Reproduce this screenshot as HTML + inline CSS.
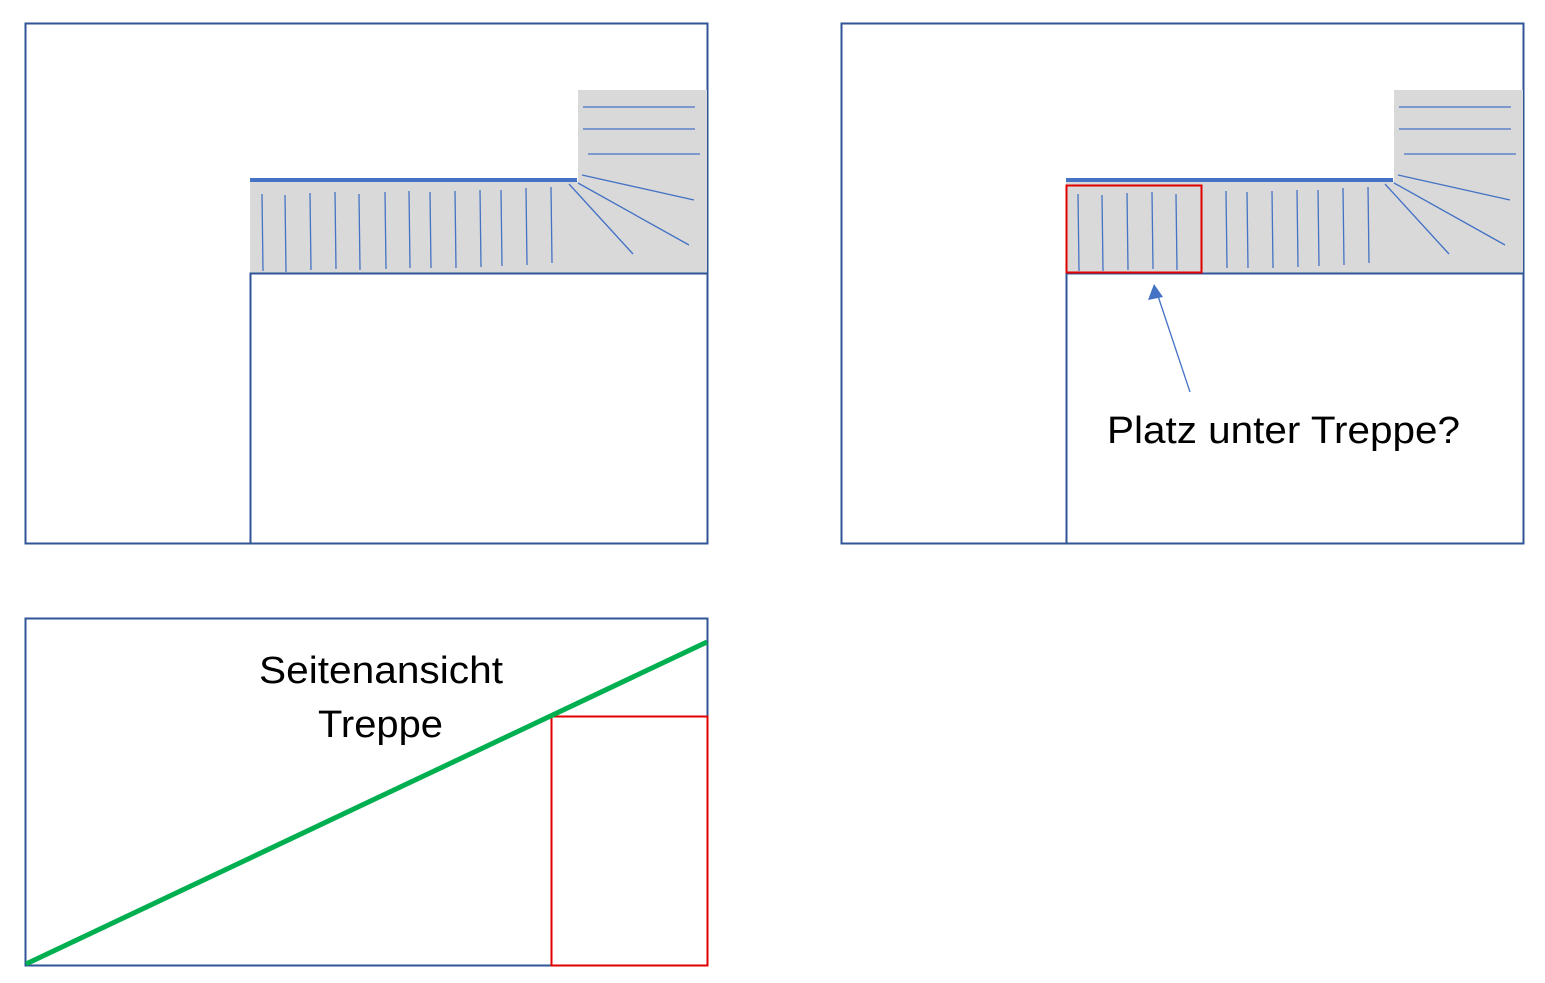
<!DOCTYPE html>
<html><head><meta charset="utf-8"><style>
html,body{margin:0;padding:0;background:#fff;width:1545px;height:983px;overflow:hidden}
svg{display:block}
text{font-family:"Liberation Sans",sans-serif;font-size:38px;fill:#000}
</style></head><body>
<svg width="1545" height="983" viewBox="0 0 1545 983" xmlns="http://www.w3.org/2000/svg">
<g>
<rect x="25.5" y="23.5" width="682" height="520" fill="#fff" stroke="#2f5597" stroke-width="2"/>
<rect x="250" y="181" width="457" height="92" fill="#d9d9d9"/>
<rect x="578" y="90" width="129" height="91" fill="#d9d9d9"/>
<line x1="250" y1="180" x2="577" y2="180" stroke="#4472c4" stroke-width="4"/>
<rect x="250.5" y="273.5" width="457" height="270" fill="#fff" stroke="#2f5597" stroke-width="2"/>
<g stroke="#4472c4" stroke-width="1.3">
<line x1="262" y1="194" x2="263" y2="271"/><line x1="285" y1="195" x2="286" y2="272"/>
<line x1="310" y1="193" x2="311" y2="270"/><line x1="335" y1="192" x2="336" y2="269"/>
<line x1="359" y1="194" x2="360" y2="270"/><line x1="385" y1="192" x2="386" y2="269"/>
<line x1="409" y1="191" x2="410" y2="268"/><line x1="430" y1="192" x2="431" y2="268"/>
<line x1="455" y1="191" x2="456" y2="268"/><line x1="480" y1="190" x2="481" y2="267"/>
<line x1="501" y1="190" x2="502" y2="266"/><line x1="526" y1="188" x2="527" y2="265"/>
<line x1="551" y1="187" x2="552" y2="263"/>
<line x1="569" y1="184" x2="633" y2="254"/><line x1="578" y1="183" x2="689" y2="245"/>
<line x1="582" y1="175" x2="694" y2="200"/>
<line x1="583" y1="107" x2="695" y2="107"/><line x1="583" y1="129" x2="695" y2="129"/>
<line x1="588" y1="154" x2="700" y2="154"/>
</g>
</g>
<g transform="translate(816,0)">
<rect x="25.5" y="23.5" width="682" height="520" fill="#fff" stroke="#2f5597" stroke-width="2"/>
<rect x="250" y="181" width="457" height="92" fill="#d9d9d9"/>
<rect x="578" y="90" width="129" height="91" fill="#d9d9d9"/>
<line x1="250" y1="180" x2="577" y2="180" stroke="#4472c4" stroke-width="4"/>
<rect x="250.5" y="273.5" width="457" height="270" fill="#fff" stroke="#2f5597" stroke-width="2"/>
<g stroke="#4472c4" stroke-width="1.3">
<line x1="262" y1="194" x2="263" y2="271"/><line x1="286" y1="195" x2="287" y2="271"/>
<line x1="311" y1="193" x2="312" y2="270"/><line x1="336" y1="192" x2="337" y2="269"/>
<line x1="360" y1="194" x2="361" y2="270"/>
<line x1="410" y1="191" x2="411" y2="268"/><line x1="431" y1="192" x2="432" y2="268"/>
<line x1="456" y1="191" x2="457" y2="268"/><line x1="481" y1="190" x2="482" y2="267"/>
<line x1="502" y1="190" x2="503" y2="266"/><line x1="527" y1="188" x2="528" y2="265"/>
<line x1="552" y1="187" x2="553" y2="263"/>
<line x1="569" y1="184" x2="633" y2="254"/><line x1="578" y1="183" x2="689" y2="245"/>
<line x1="582" y1="175" x2="694" y2="200"/>
<line x1="583" y1="107" x2="695" y2="107"/><line x1="583" y1="129" x2="695" y2="129"/>
<line x1="588" y1="154" x2="700" y2="154"/>
</g>
<rect x="250.5" y="185.5" width="135" height="87" fill="none" stroke="#e00000" stroke-width="2"/>
</g>
<line x1="1190" y1="392" x2="1158" y2="296" stroke="#4472c4" stroke-width="1.3"/>
<polygon points="1154,284 1148,300 1163,297" fill="#4472c4"/>
<text x="1107" y="443" textLength="353" lengthAdjust="spacingAndGlyphs">Platz unter Treppe?</text>
<rect x="25.5" y="618.5" width="682" height="347" fill="#fff" stroke="#2f5597" stroke-width="2"/>
<rect x="551.5" y="716.5" width="156" height="249" fill="none" stroke="#e00000" stroke-width="2"/>
<line x1="26" y1="964" x2="707" y2="642" stroke="#00b050" stroke-width="5"/>
<text x="259" y="683" textLength="244" lengthAdjust="spacingAndGlyphs">Seitenansicht</text>
<text x="318" y="737" textLength="125" lengthAdjust="spacingAndGlyphs">Treppe</text>
</svg>
</body></html>
